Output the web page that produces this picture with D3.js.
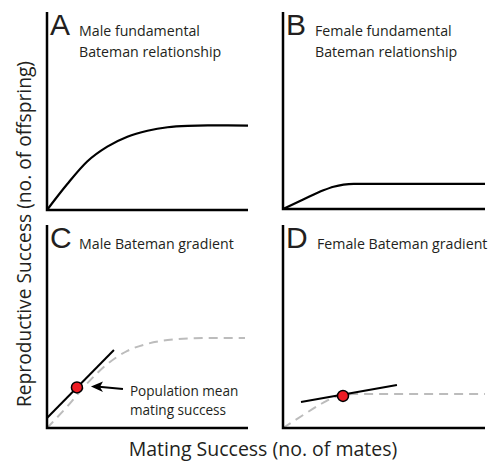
<!DOCTYPE html>
<html>
<head>
<meta charset="utf-8">
<script src="https://cdn.jsdelivr.net/npm/d3@7"></script>
<style>
  body { margin: 0; background: #fff; }
  svg text { font-family: "Open Sans", sans-serif; fill: #231f20; }
</style>
</head>
<body>
<div id="chart"></div>
<script>
const WIDTH = 495;
const HEIGHT = 462;

// mating success (x) read at these points
const maleX = [0, 1, 2, 3, 4, 5, 6, 7, 8, 9, 10];
const maleRS = [0, 1.3, 2.45, 3.2, 3.7, 4.0, 4.18, 4.25, 4.27, 4.27, 4.26];

const femaleX = [0, 1, 2, 2.5, 3, 3.5, 4, 6, 8, 10];
const femaleRS = [0, 0.48, 0.95, 1.13, 1.24, 1.28, 1.28, 1.28, 1.28, 1.28];

const maleDashX = [0, 1, 2, 3, 4, 5, 6, 7, 8, 9.85];
const maleDashRS = [0, 1.05, 2.2, 3.15, 3.8, 4.15, 4.33, 4.41, 4.43, 4.43];

const femaleDashX = [0, 1, 2, 2.5, 3, 3.5, 4, 6, 8, 10];
const femaleDashRS = [0, 0.64, 1.25, 1.5, 1.63, 1.67, 1.67, 1.67, 1.67, 1.67];

// gradient lines [x, y] endpoints, and population mean points
const maleGradient = [[0, 0.49], [3.33, 3.84]];
const femaleGradient = [[0.89, 1.28], [5.64, 2.12]];
const maleMean = [1.49, 2.0];
const femaleMean = [2.97, 1.58];

const letters = ["A", "B", "C", "D"];
const titles = [
  ["Male fundamental", "Bateman relationship"],
  ["Female fundamental", "Bateman relationship"],
  ["Male Bateman gradient"],
  ["Female Bateman gradient"]
];
const annotation = ["Population mean", "mating success"];

const layout = [
  { left: 47, right: 248, top: 12, bottom: 210, titleDx: 32 },
  { left: 283, right: 485, top: 12, bottom: 209, titleDx: 32 },
  { left: 47, right: 248, top: 225, bottom: 428, titleDx: 32 },
  { left: 283, right: 485, top: 225, bottom: 428, titleDx: 34 }
];

const svg = d3.select("#chart")
  .append("svg")
  .attr("width", WIDTH)
  .attr("height", HEIGHT);

const zip = (xs, ys) => xs.map((x, i) => [x, ys[i]]);

const panelData = [
  { curve: zip(maleX, maleRS) },
  { curve: zip(femaleX, femaleRS) },
  { dash: zip(maleDashX, maleDashRS), grad: maleGradient, mean: maleMean, note: true },
  { dash: zip(femaleDashX, femaleDashRS), grad: femaleGradient, mean: femaleMean }
];

panelData.forEach((p, i) => {
  const L = layout[i];
  const x = d3.scaleLinear().domain([0, 10]).range([L.left, L.right]);
  const y = d3.scaleLinear().domain([0, 10]).range([L.bottom, L.top]);
  const g = svg.append("g");

  const line = d3.line()
    .x((d) => x(d[0]))
    .y((d) => y(d[1]))
    .curve(d3.curveMonotoneX);

  if (p.dash) {
    g.append("path")
      .attr("d", line(p.dash))
      .attr("fill", "none")
      .attr("stroke", "#bcbcbc")
      .attr("stroke-width", 2)
      .attr("stroke-dasharray", "9,6");
  }
  if (p.curve) {
    g.append("path")
      .attr("d", line(p.curve))
      .attr("fill", "none")
      .attr("stroke", "#000")
      .attr("stroke-width", 2.2);
  }
  if (p.grad) {
    g.append("path")
      .attr("d", d3.line().x((d) => x(d[0])).y((d) => y(d[1]))(p.grad))
      .attr("fill", "none")
      .attr("stroke", "#000")
      .attr("stroke-width", 2);
    g.append("circle")
      .attr("cx", x(p.mean[0]))
      .attr("cy", y(p.mean[1]))
      .attr("r", 5.5)
      .attr("fill", "#ee1c24")
      .attr("stroke", "#000")
      .attr("stroke-width", 1.5);
  }
  if (p.note) {
    const mx = x(p.mean[0]);
    const my = y(p.mean[1]);
    const tipX = mx + 14, tipY = my - 1;
    // arrow shaft + head
    g.append("line")
      .attr("x1", mx + 46).attr("y1", my + 1.5)
      .attr("x2", tipX + 8).attr("y2", tipY + 0.4)
      .attr("stroke", "#000")
      .attr("stroke-width", 2);
    g.append("path")
      .attr("d", `M${tipX},${tipY} L${tipX + 12},${tipY - 5} L${tipX + 9},${tipY + 0.5} L${tipX + 12},${tipY + 5.5} Z`)
      .attr("fill", "#000");

    g.selectAll("text.note")
      .data(annotation)
      .join("text")
      .attr("class", "note")
      .attr("x", mx + 53)
      .attr("y", (d, k) => my + 9 + k * 18.5)
      .attr("font-size", 13.6)
      .text((d) => d);
  }

  // axes
  g.append("path")
    .attr("d", `M${L.left},${L.top}V${L.bottom}H${L.right}`)
    .attr("fill", "none")
    .attr("stroke", "#000")
    .attr("stroke-width", 2.5);

  g.append("text")
    .attr("x", L.left + 3)
    .attr("y", L.top + 23)
    .attr("font-size", 30)
    .style("font-family", "'Liberation Sans', Arial, sans-serif")
    .text(letters[i]);

  g.selectAll("text.title")
    .data(titles[i])
    .join("text")
    .attr("class", "title")
    .attr("x", L.left + L.titleDx)
    .attr("y", (d, k) => L.top + 24 + k * 21)
    .attr("font-size", 14.2)
    .text((d) => d);
});

svg.append("text")
  .attr("transform", "translate(31,234) rotate(-90)")
  .attr("text-anchor", "middle")
  .attr("font-size", 19.2)
  .text("Reproductive Success (no. of offspring)");

svg.append("text")
  .attr("x", 263)
  .attr("y", 456)
  .attr("text-anchor", "middle")
  .attr("font-size", 19.5)
  .text("Mating Success (no. of mates)");
</script>
</body>
</html>
